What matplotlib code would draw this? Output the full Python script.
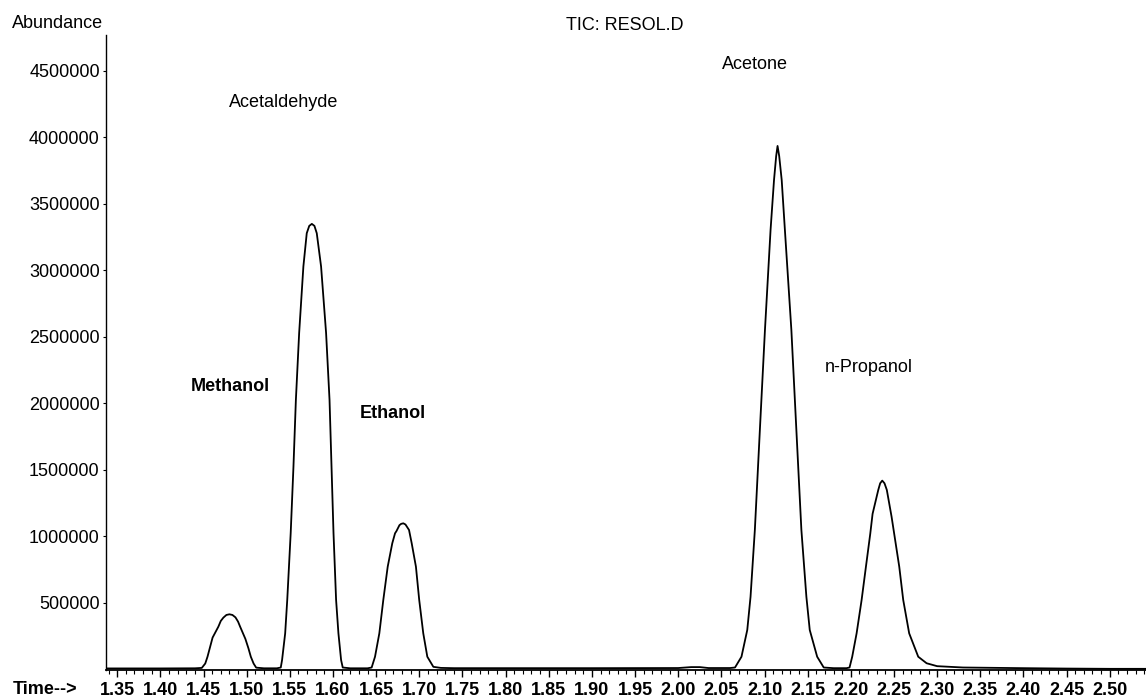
import matplotlib
matplotlib.use("Agg")
import matplotlib.pyplot as plt
from matplotlib.ticker import MultipleLocator, FixedLocator, FormatStrFormatter

plt.rcParams['font.family'] = ['Liberation Sans', 'DejaVu Sans']

# trace (time in min, abundance)
tiempo = [1.337, 1.40, 1.44,
          1.448, 1.4520, 1.4546, 1.4605, 1.4672, 1.4700, 1.4730, 1.4765, 1.4800, 1.4835, 1.4870, 1.4900,
          1.4924, 1.4985, 1.5020, 1.5048, 1.5080, 1.5110, 1.520, 1.535,
          1.5395, 1.5410, 1.5446, 1.5470, 1.5510, 1.5542, 1.5570, 1.5608, 1.5657, 1.5696, 1.5725, 1.5755,
          1.5785, 1.5812, 1.5862, 1.5920, 1.5960, 1.5983, 1.6006, 1.6036, 1.6063, 1.6094, 1.6113, 1.620, 1.640,
          1.6448, 1.6487, 1.6537, 1.6583, 1.6634, 1.6687, 1.6719, 1.6735, 1.6770, 1.6790, 1.6815, 1.6840,
          1.6860, 1.6881, 1.6912, 1.6961, 1.6999, 1.7046, 1.7093, 1.7163, 1.725, 1.74,
          1.80, 1.90, 2.00, 2.015, 2.025, 2.035, 2.06,
          2.0658, 2.0733, 2.0800, 2.0838, 2.0888, 2.0946, 2.1005, 2.1070, 2.1110, 2.1135, 2.1151,
          2.1170, 2.1199, 2.1236, 2.1311, 2.1369, 2.1427, 2.1485, 2.1524, 2.1610, 2.1686, 2.18, 2.195,
          2.1985, 2.2016, 2.2067, 2.2125, 2.2175, 2.2225, 2.2252, 2.2318, 2.2340, 2.2364,
          2.2390, 2.2417, 2.2472, 2.2561, 2.2607, 2.2676, 2.2781, 2.2878, 2.30, 2.33, 2.40, 2.45, 2.50, 2.542]
abundancia = [8000, 8000, 9000,
              12000, 45000, 96000, 240000, 322000, 365000, 390000, 410000, 415000, 410000, 392000, 360000,
              322000, 230000, 160000, 96000, 45000, 14000, 9000, 9000,
              15000, 71000, 272000, 523000, 1026000, 1525000, 2026000, 2530000, 3030000, 3280000, 3335000, 3350000,
              3335000, 3280000, 3030000, 2530000, 2026000, 1525000, 1026000, 523000, 272000, 71000, 15000, 9000, 9000,
              15000, 96000, 272000, 523000, 773000, 949000, 1024000, 1040000, 1085000, 1095000, 1099000, 1090000,
              1070000, 1049000, 949000, 773000, 523000, 272000, 96000, 20000, 12000, 10000,
              10000, 10000, 11000, 18000, 18000, 11000, 11000,
              15000, 96000, 297000, 547000, 1050000, 1800000, 2553000, 3305000, 3680000, 3860000, 3936000,
              3860000, 3680000, 3305000, 2553000, 1800000, 1050000, 547000, 297000, 96000, 15000, 10000, 10000,
              15000, 96000, 272000, 523000, 773000, 1020000, 1170000, 1350000, 1400000, 1420000,
              1400000, 1350000, 1149000, 773000, 523000, 272000, 96000, 47000, 25000, 15000, 10000, 7000, 5000, 5000]

compuestos = ["Methanol", "Acetaldehyde", "Ethanol", "Acetone", "n-Propanol"]
y_ticks = [500000, 1000000, 1500000, 2000000, 2500000, 3000000, 3500000, 4000000, 4500000]

figure = plt.figure(figsize=(11.46, 6.99), dpi=100)
axes = figure.add_axes([106/1146, 1 - 669.5/699, 1 - 106/1146, (669.5 - 35)/699])

axes.plot(tiempo, abundancia, 'k-', lw=1.3)

axes.set_xlim(1.337, 2.542)
axes.set_ylim(0, 4.77e6)

axes.spines['top'].set_visible(False)
axes.spines['right'].set_visible(False)
axes.spines['left'].set_linewidth(1.0)
axes.spines['bottom'].set_linewidth(1.3)

axes.xaxis.set_major_locator(MultipleLocator(0.05))
axes.xaxis.set_minor_locator(MultipleLocator(0.01))
axes.xaxis.set_major_formatter(FormatStrFormatter('%.2f'))
axes.yaxis.set_major_locator(FixedLocator(y_ticks))
axes.yaxis.set_major_formatter(FormatStrFormatter('%d'))

axes.tick_params(axis='x', which='major', length=5, width=1.0, pad=4, labelsize=13)
axes.tick_params(axis='x', which='minor', length=3, width=0.8)
axes.tick_params(axis='y', which='major', length=2.5, width=0.8, pad=2, labelsize=13)
for lab in axes.get_xticklabels():
    lab.set_fontweight('bold')

# peak names
posiciones = {"Methanol": (1.4815, 2126000, 'bold'),
              "Acetaldehyde": (1.5428, 4259000, 'normal'),
              "Ethanol": (1.6691, 1921000, 'bold'),
              "Acetone": (2.0889, 4545000, 'normal'),
              "n-Propanol": (2.2209, 2274000, 'normal')}
for nombre in compuestos:
    x, y, peso = posiciones[nombre]
    axes.text(x, y, nombre, ha='center', va='center', fontsize=13, fontweight=peso)

figure.text(625/1146, 1 - 25/699, "TIC: RESOL.D", ha='center', va='center', fontsize=13)
figure.text(12/1146, 1 - 23/699, "Abundance", ha='left', va='center', fontsize=13)
figure.text(13/1146, 1 - 690/699, "Time-->", ha='left', va='center', fontsize=13, fontweight='bold')

figure.savefig("out.png", dpi=100)
